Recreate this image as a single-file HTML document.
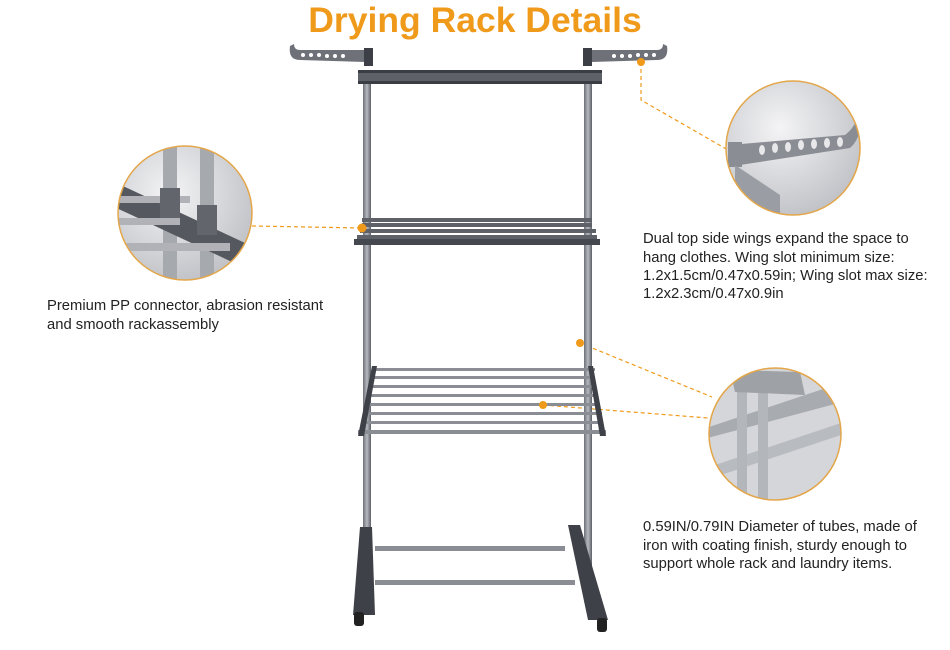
<!DOCTYPE html>
<html><head><meta charset="utf-8"><style>
html,body{margin:0;padding:0;background:#fff;}
svg{display:block}
text{font-family:"Liberation Sans",Arial,sans-serif}
</style></head><body>
<svg width="950" height="650" viewBox="0 0 950 650" xmlns="http://www.w3.org/2000/svg">
<defs>
<radialGradient id="g1" cx="40%" cy="35%" r="70%"><stop offset="0" stop-color="#f4f4f6"/><stop offset="1" stop-color="#b9bbc0"/></radialGradient>
<linearGradient id="pole" x1="0" x2="1"><stop offset="0" stop-color="#6d7077"/><stop offset=".5" stop-color="#b6b9bf"/><stop offset="1" stop-color="#5d6067"/></linearGradient>
<clipPath id="c1"><circle cx="185" cy="213" r="67"/></clipPath>
<clipPath id="c2"><circle cx="793" cy="148" r="67"/></clipPath>
<clipPath id="c3"><circle cx="775" cy="434" r="66"/></clipPath>
</defs>
<text x="475" y="32" text-anchor="middle" font-size="35.5" font-weight="bold" fill="#ef9a1a">Drying Rack Details</text>

<g stroke="#ef9a1a" stroke-width="1.2" stroke-dasharray="4,3" fill="none">
<line x1="252" y1="226" x2="362" y2="228"/>
<polyline points="641,62 641,100 728,150"/>
<line x1="580" y1="343" x2="712" y2="397"/>
<line x1="543" y1="405" x2="708" y2="418"/>
</g>

<g>
<rect x="363" y="72" width="8" height="520" fill="url(#pole)"/>
<rect x="584" y="72" width="8" height="530" fill="url(#pole)"/>
<path d="M290 46 Q288 60 300 60 L365 62 L366 50 L300 50 Q294 50 294 44Z" fill="#6e7178"/>
<g fill="#fff"><circle cx="303" cy="55" r="2"/><circle cx="311" cy="55" r="2"/><circle cx="319" cy="55" r="2"/><circle cx="327" cy="56" r="2"/><circle cx="335" cy="56" r="2"/><circle cx="343" cy="56" r="2"/></g>
<rect x="364" y="48" width="9" height="18" fill="#3c3f45"/>
<path d="M667 46 Q669 60 657 60 L592 62 L591 50 L657 50 Q663 50 663 44Z" fill="#6e7178"/>
<g fill="#fff"><circle cx="654" cy="55" r="2"/><circle cx="646" cy="55" r="2"/><circle cx="638" cy="55" r="2"/><circle cx="630" cy="56" r="2"/><circle cx="622" cy="56" r="2"/><circle cx="614" cy="56" r="2"/></g>
<rect x="583" y="48" width="9" height="18" fill="#3c3f45"/>
<rect x="358" y="70" width="244" height="14" fill="#5e6168"/>
<rect x="358" y="70" width="244" height="3" fill="#3a3d43"/>
<rect x="358" y="81" width="244" height="3" fill="#3a3d43"/>
<g fill="#5e6168">
<rect x="362" y="218" width="230" height="4"/><rect x="362" y="223" width="230" height="4"/><rect x="360" y="229" width="236" height="4"/><rect x="357" y="235" width="240" height="4"/>
</g>
<rect x="354" y="239" width="246" height="6" fill="#45484e"/>
<g fill="#8a8d94">
<rect x="375" y="368" width="220" height="3"/><rect x="373" y="376" width="222" height="3"/><rect x="372" y="385" width="224" height="3"/><rect x="370" y="394" width="228" height="3"/><rect x="368" y="403" width="232" height="3"/><rect x="366" y="412" width="236" height="3"/><rect x="362" y="421" width="240" height="3"/><rect x="358" y="430" width="248" height="4"/>
</g>
<path d="M372 366 L358 436 L364 436 L377 366Z" fill="#3e4147"/>
<path d="M593 366 L606 436 L600 436 L588 366Z" fill="#3e4147"/>
<rect x="375" y="546" width="190" height="5" fill="#8a8d94"/>
<rect x="375" y="580" width="200" height="5" fill="#8a8d94"/>
<path d="M360 527 L372 527 L375 615 L353 615 Z" fill="#3e4147"/>
<path d="M568 525 L580 525 L608 620 L588 620 Z" fill="#3e4147"/>
<rect x="354" y="612" width="10" height="14" rx="3" fill="#222"/>
<rect x="597" y="618" width="10" height="14" rx="3" fill="#222"/>
</g>
<circle cx="362" cy="228" r="4.5" fill="#ef9a1a"/>
<circle cx="641" cy="62" r="4" fill="#ef9a1a"/>
<circle cx="580" cy="343" r="4" fill="#ef9a1a"/>
<circle cx="543" cy="405" r="4" fill="#ef9a1a"/>

<g clip-path="url(#c1)">
<rect x="110" y="140" width="150" height="150" fill="url(#g1)"/>
<rect x="163" y="140" width="14" height="150" fill="#a6a9ae"/>
<rect x="200" y="140" width="14" height="150" fill="#a6a9ae"/>
<path d="M110 180 L260 250 L260 275 L110 205Z" fill="#55585e"/>
<rect x="110" y="196" width="80" height="7" fill="#b0b2b7"/>
<rect x="110" y="218" width="70" height="7" fill="#b0b2b7"/>
<rect x="110" y="243" width="120" height="8" fill="#b0b2b7"/>
<rect x="160" y="188" width="20" height="30" fill="#62656b"/>
<rect x="197" y="205" width="20" height="30" fill="#62656b"/>
</g>
<circle cx="185" cy="213" r="67" fill="none" stroke="#e3a64a" stroke-width="1.5"/>

<g clip-path="url(#c2)">
<rect x="720" y="75" width="150" height="150" fill="url(#g1)"/>
<path d="M730 145 L845 135 Q858 125 858 110 L863 110 Q862 138 850 148 L740 165Z" fill="#8a8d94"/>
<g fill="#e8e8ea"><ellipse cx="762" cy="150" rx="3" ry="5"/><ellipse cx="775" cy="148" rx="3" ry="5"/><ellipse cx="788" cy="147" rx="3" ry="5"/><ellipse cx="801" cy="145" rx="3" ry="5"/><ellipse cx="814" cy="144" rx="3" ry="5"/><ellipse cx="827" cy="143" rx="3" ry="5"/><ellipse cx="840" cy="142" rx="3" ry="5"/></g>
<rect x="728" y="142" width="14" height="25" fill="#8a8d94"/>
<path d="M735 165 L780 195 L780 215 L735 200Z" fill="#9a9da3"/>
</g>
<circle cx="793" cy="148" r="67" fill="none" stroke="#e3a64a" stroke-width="1.5"/>

<g clip-path="url(#c3)">
<rect x="700" y="360" width="150" height="150" fill="#d5d6da"/>
<path d="M700 430 L850 380 L850 400 L700 440Z" fill="#a8abb0"/>
<path d="M700 470 L850 420 L850 432 L700 482Z" fill="#b8bbc0"/>
<rect x="737" y="378" width="10" height="140" fill="#b3b6bb"/>
<rect x="758" y="378" width="10" height="140" fill="#b3b6bb"/>
<path d="M730 370 L800 372 L805 395 L735 392Z" fill="#9ea1a6"/>
</g>
<circle cx="775" cy="434" r="66" fill="none" stroke="#e3a64a" stroke-width="1.5"/>

<g font-size="14.8" fill="#222">
<text x="47" y="310">Premium PP connector, abrasion resistant</text>
<text x="47" y="329">and smooth rackassembly</text>
<text x="643" y="243">Dual top side wings expand the space to</text>
<text x="643" y="262">hang clothes. Wing slot minimum size:</text>
<text x="643" y="280">1.2x1.5cm/0.47x0.59in; Wing slot max size:</text>
<text x="643" y="298">1.2x2.3cm/0.47x0.9in</text>
<text x="643" y="531">0.59IN/0.79IN Diameter of tubes, made of</text>
<text x="643" y="550">iron with coating finish, sturdy enough to</text>
<text x="643" y="568">support whole rack and laundry items.</text>
</g>
</svg>
</body></html>
